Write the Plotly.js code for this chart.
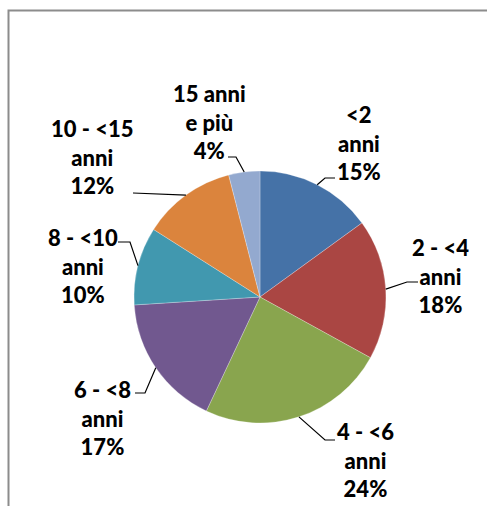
<!DOCTYPE html>
<html>
<head>
<meta charset="utf-8">
<script src="https://cdn.plot.ly/plotly-3.0.1.min.js"></script>
<style>
  html, body { margin: 0; padding: 0; background: #fff; }
  #chart { width: 487px; height: 506px; }
</style>
</head>
<body>
<div id="chart"></div>
<script>
// ---- data ----
const categories = ["<2 anni", "2 - <4 anni", "4 - <6 anni", "6 - <8 anni", "8 - <10 anni", "10 - <15 anni", "15 anni e più"];
const labelLines = [["<2", "anni"], ["2 - <4", "anni"], ["4 - <6", "anni"], ["6 - <8", "anni"], ["8 - <10", "anni"], ["10 - <15", "anni"], ["15 anni", "e più"]];
const values = [15, 18, 24, 17, 10, 12, 4];
const colors = ["#4572A7", "#AA4643", "#89A54E", "#71588F", "#4198AF", "#DB843D", "#93A9CF"];

// ---- layout config (pixels) ----
const W = 487, H = 506;
const cx = 260, cy = 297, R = 126;
// label centres and leader elbow/end points (pixels)
const labelPos = [[359, 143], [440, 276], [365, 460], [102, 418], [83, 266], [92, 157], [209, 122]];
const leaderPts = [
  [[325, 178], [335, 178]],
  [[407, 282], [418, 282]],
  [[325, 440], [335, 440]],
  [[145, 393], [135, 393]],
  [[130, 242], [118, 242]],
  [[133, 193]],
  [[236, 157], [228, 157]]
];

const px = x => x / W;
const py = y => 1 - y / H;

const total = values.reduce((a, b) => a + b, 0);
let cum = 0;
const shapes = [];
const annotations = [];
values.forEach((v, i) => {
  const mid = (cum + v / 2) / total * 2 * Math.PI;
  cum += v;
  const ex = cx + R * Math.sin(mid);
  const ey = cy - R * Math.cos(mid);
  let path = "M" + px(ex) + "," + py(ey);
  leaderPts[i].forEach(p => { path += " L" + px(p[0]) + "," + py(p[1]); });
  shapes.push({type: "path", xref: "paper", yref: "paper", path: path,
               line: {color: "#000", width: 1.2}});
  const pct = Math.round(v / total * 100) + "%";
  annotations.push({
    xref: "paper", yref: "paper", x: px(labelPos[i][0]), y: py(labelPos[i][1]),
    xanchor: "center", yanchor: "middle", showarrow: false,
    text: labelLines[i].concat([pct]).join("<br>"),
    align: "center",
    font: {family: "Lato, 'Open Sans', sans-serif", size: 22, color: "#000", weight: 900}
  });
});

// frame (left and top edges visible)
shapes.push({type: "path", xref: "paper", yref: "paper",
  path: "M" + px(8.5) + "," + py(506) + " L" + px(8.5) + "," + py(10.5) + " L" + px(487) + "," + py(10.5),
  line: {color: "#8c8c8c", width: 2}});

const trace = {
  type: "pie",
  labels: categories,
  values: values,
  sort: false,
  direction: "clockwise",
  rotation: 0,
  textinfo: "none",
  hoverinfo: "label+percent",
  marker: {colors: colors, line: {color: "rgba(255,255,255,0.5)", width: 0.5}},
  domain: {x: [px(cx - R), px(cx + R)], y: [py(cy + R), py(cy - R)]},
  showlegend: false
};

Plotly.newPlot("chart", [trace], {
  width: W, height: H,
  margin: {l: 0, r: 0, t: 0, b: 0, pad: 0},
  paper_bgcolor: "#fff",
  showlegend: false,
  shapes: shapes,
  annotations: annotations
}, {displayModeBar: false, staticPlot: true});
</script>
</body>
</html>
